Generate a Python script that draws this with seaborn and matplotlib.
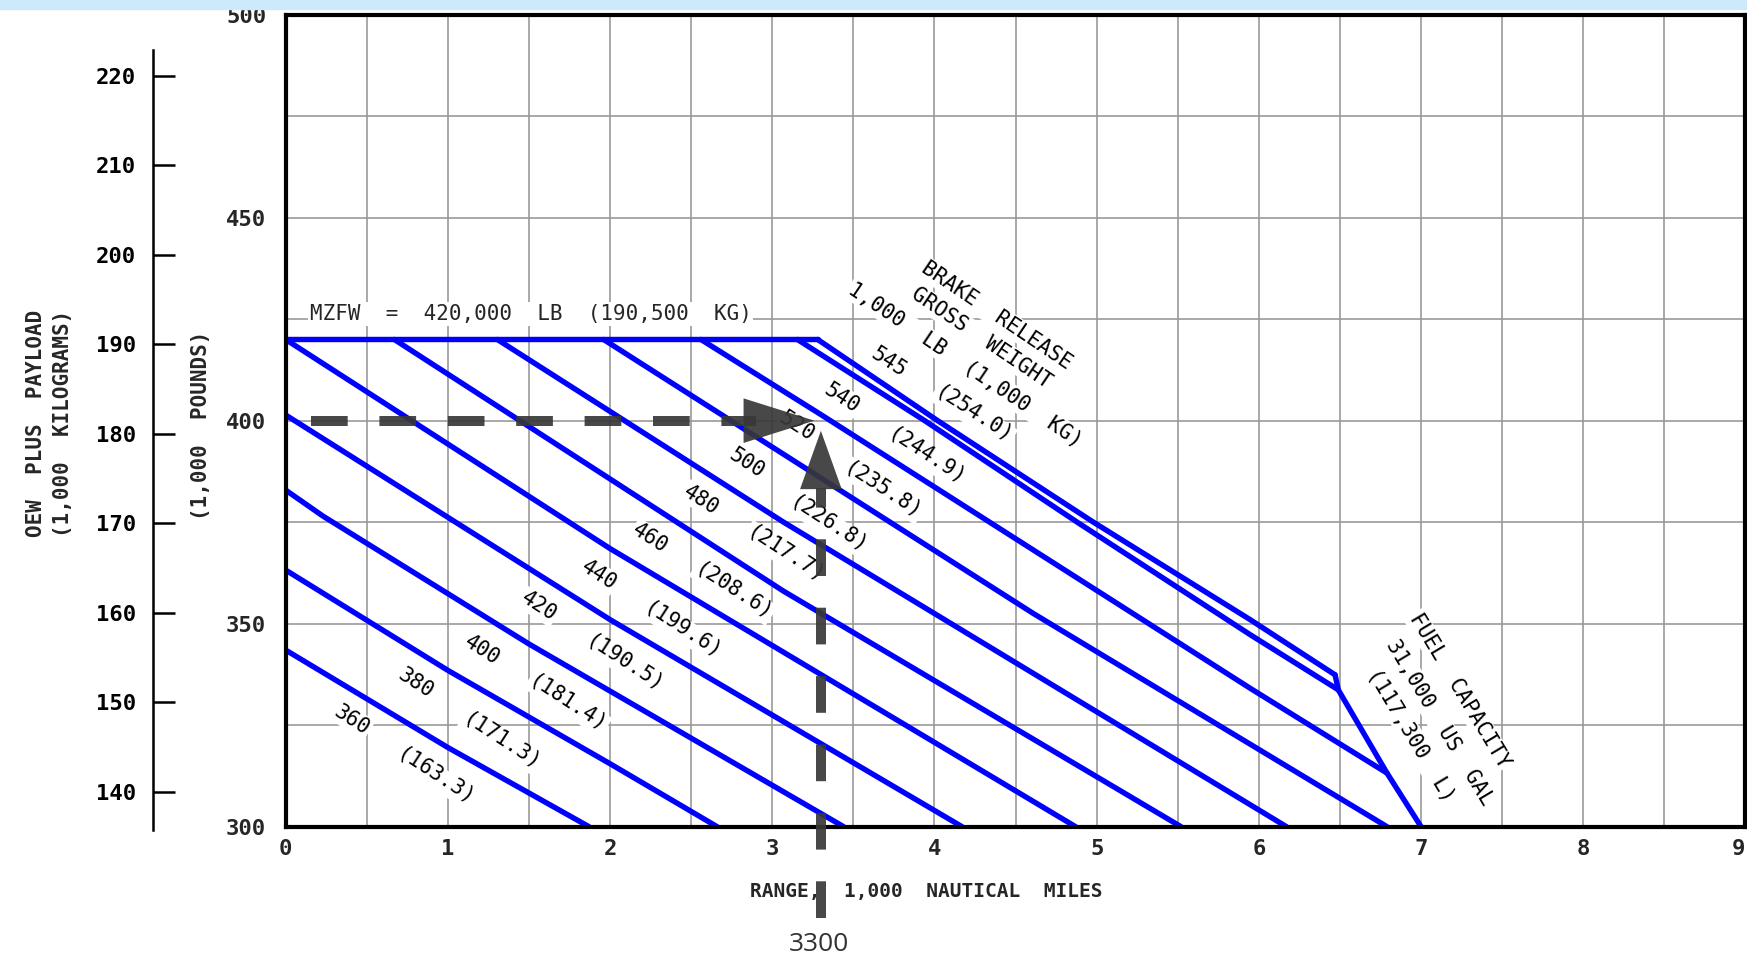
import numpy as np
import pandas as pd
import matplotlib
matplotlib.use("Agg")
import matplotlib.pyplot as plt
from matplotlib.patches import Rectangle
import seaborn as sns

# brake release gross weight, 1,000 lb and (1,000 kg)
gross_lb = [360, 380, 400, 420, 440, 460, 480, 500, 520, 540, 545]
gross_kg = ["163.3", "171.3", "181.4", "190.5", "199.6", "208.6",
            "217.7", "226.8", "235.8", "244.9", "254.0"]

# points: range (1,000 nm) / OEW + payload (1,000 lb)
line_range = [
    [0, 1.0, 1.87],
    [0, 1.0, 2.0, 2.66],
    [0, 0.23, 1.5, 3.44],
    [0, 2.0, 4.17],
    [0, 2.0, 4.87],
    [0.67, 3.07, 5.52],
    [1.305, 3.07, 6.17],
    [1.96, 4.61, 6.79],
    [2.56, 3.3, 5.95, 6.79],
    [3.155, 3.94, 4.88, 5.95, 6.49],
    [3.28, 4.02, 4.98, 5.95, 6.47],
]
line_payload = [
    [343.5, 319.5, 300],
    [363.2, 338.5, 315.5, 300],
    [382.9, 376.5, 345.0, 300],
    [401.4, 351.0, 300],
    [420, 368.5, 300],
    [420, 358.0, 300],
    [420, 375.0, 300],
    [420, 352.5, 300],
    [420, 401.5, 334.0, 313.2],
    [420, 400, 375, 347.2, 333.7],
    [420, 400, 375, 350.9, 337.4],
]

# max zero fuel weight and fuel capacity limits
mzfw_range = [0, 3.28]
mzfw_payload = [420, 420]
fuel_range = [6.47, 6.49, 6.79, 7.0]
fuel_payload = [337.4, 333.7, 313.2, 300]

# worked example: 3300 nm at 400,000 lb
example_range = 3.3
example_payload = 400

kg_ticks = [140, 150, 160, 170, 180, 190, 200, 210, 220]
LB_PER_KG = 2.20462

rows = []
for lb, xs, ys in zip(gross_lb, line_range, line_payload):
    for x, y in zip(xs, ys):
        rows.append((lb, x, y))
df = pd.DataFrame(rows, columns=["gross", "range", "payload"])
limits = pd.DataFrame({
    "name": ["mzfw"] * len(mzfw_range) + ["fuel"] * len(fuel_range),
    "range": mzfw_range + fuel_range,
    "payload": mzfw_payload + fuel_payload,
})

sns.set_theme(style="white")
plt.rcParams["font.family"] = ["DejaVu Sans Mono", "DejaVu Sans"]

BLUE = "#0000ff"
DARK = "#383838"

fig = plt.figure(figsize=(17.47, 9.59), dpi=100)
ax = fig.add_axes([0.1635, 0.138, 0.8356, 0.8467])

sns.lineplot(data=df, x="range", y="payload", hue="gross",
             palette={g: BLUE for g in gross_lb}, estimator=None, sort=False,
             legend=False, lw=3.9, ax=ax, zorder=2)
sns.lineplot(data=limits, x="range", y="payload", hue="name",
             palette={"mzfw": BLUE, "fuel": BLUE}, estimator=None, sort=False,
             legend=False, lw=3.9, ax=ax, zorder=2)

ax.set_xlim(0, 9)
ax.set_ylim(300, 500)
ax.set_xticks(range(10))
ax.set_xticks(np.arange(0.5, 9, 0.5), minor=True)
ax.set_yticks([300, 350, 400, 450, 500])
ax.set_yticks([325, 375, 425, 475], minor=True)
ax.grid(True, which="both", color="#9a9a9a", lw=1.2)
ax.set_axisbelow(True)
ax.tick_params(which="both", length=0)
ax.tick_params(axis="x", pad=9, labelsize=16)
ax.tick_params(axis="y", pad=14, labelsize=16)
for lab in ax.get_xticklabels() + ax.get_yticklabels():
    lab.set_fontweight("bold")
ax.get_xticklabels()[-1].set_ha("right")
ax.set_xlabel("")
ax.set_ylabel("")
for s in ax.spines.values():
    s.set_visible(True)
    s.set_color("black")
    s.set_linewidth(3)

# kilogram scale on the far left
kg = ax.secondary_yaxis(-0.0911, functions=(lambda v: v / LB_PER_KG,
                                            lambda v: v * LB_PER_KG))
kg.set_yticks(kg_ticks)
kg.spines["left"].set_bounds(135.7, 222.9)
kg.spines["left"].set_linewidth(1.8)
kg.spines["left"].set_color("black")
kg.tick_params(direction="in", length=16, width=1.8, pad=12, labelsize=16,
               colors="black")
for lab in kg.get_yticklabels():
    lab.set_fontweight("bold")

box = dict(boxstyle="square,pad=0.08", fc="white", ec="none")
txt = dict(fontsize=15, color="black", ha="center", va="center",
           rotation_mode="anchor", zorder=3)

lb_label_pos = [(0.41, 326.3), (0.80, 335.3), (1.21, 343.5), (1.56, 354.2),
                (1.93, 362.0), (2.25, 371.0), (2.56, 380.5), (2.84, 389.5),
                (3.15, 398.5), (3.43, 405.5), (3.72, 414.5)]
kg_label_pos = [(0.925, 312.3), (1.33, 320.9), (1.74, 330.4), (2.09, 340.2),
                (2.45, 348.4), (2.76, 358.0), (3.08, 367.0), (3.35, 374.3),
                (3.68, 382.9), (3.95, 391.1), (4.24, 401.4)]
for lb, kgv, p1, p2 in zip(gross_lb, gross_kg, lb_label_pos, kg_label_pos):
    ax.text(p1[0], p1[1], str(lb), rotation=-33, bbox=box, **txt)
    ax.text(p2[0], p2[1], "(" + kgv + ")", rotation=-33, bbox=box, **txt)

ax.text(4.384, 425.8, "BRAKE  RELEASE", rotation=-34, bbox=box, **txt)
ax.text(4.29, 420.3, "GROSS  WEIGHT", rotation=-34, bbox=box, **txt)
ax.text(4.19, 413.7, "1,000  LB  (1,000  KG)", rotation=-34, bbox=box, **txt)

ax.text(7.236, 333.5, "FUEL  CAPACITY", rotation=-59, bbox=box, **txt)
ax.text(7.112, 325.7, "31,000  US  GAL", rotation=-59, bbox=box, **txt)
ax.text(6.937, 322.6, "(117,300  L)", rotation=-59, bbox=box, **txt)

ax.text(0.149, 426.3, "MZFW  =  420,000  LB  (190,500  KG)", fontsize=15,
        ha="left", va="center", bbox=box, zorder=3)

# example: dashed arrows for 3300 nm
ax.plot([0.155, 2.9], [example_payload, example_payload], color=DARK, lw=7.2,
        ls=(0, (3.67, 3.17)), alpha=0.92, zorder=4, solid_capstyle="butt")
ax.plot([example_range, example_range], [277.4, 383.5], color=DARK, lw=7.2,
        ls=(0, (3.67, 3.17)), alpha=0.92, zorder=4, clip_on=False)
head_h = dict(arrowstyle="-|>,head_length=3.4,head_width=1.07", mutation_scale=15,
              fc=DARK, ec="none", lw=0, shrinkA=0, shrinkB=0, alpha=0.92)
head_v = dict(arrowstyle="-|>,head_length=2.8,head_width=1.0", mutation_scale=15,
              fc=DARK, ec="none", lw=0, shrinkA=0, shrinkB=0, alpha=0.92)
ax.annotate("", xy=(3.26, example_payload), xytext=(2.84, example_payload),
            arrowprops=head_h, zorder=4)
ax.annotate("", xy=(example_range, 397.5), xytext=(example_range, 382.5),
            arrowprops=head_v, zorder=4)

fig.text(0.530, 0.0709, "RANGE,  1,000  NAUTICAL  MILES", fontsize=14,
         fontweight="bold", ha="center", va="center")
fig.text(0.4688, 0.0156, "3300", fontsize=19, color="#333333",
         family=["Open Sans", "DejaVu Sans"], ha="center", va="center")
fig.text(0.0204, 0.559, "OEW  PLUS  PAYLOAD", rotation=90, fontsize=15,
         fontweight="bold", ha="center", va="center")
fig.text(0.0363, 0.559, "(1,000  KILOGRAMS)", rotation=90, fontsize=15,
         fontweight="bold", ha="center", va="center")
fig.text(0.1148, 0.557, "(1,000  POUNDS)", rotation=90, fontsize=15,
         fontweight="bold", ha="center", va="center")

fig.patches.append(Rectangle((0, 1 - 9 / 959), 1, 9 / 959,
                             transform=fig.transFigure, color="#cdeafd"))

fig.savefig("out.png", dpi=100)
